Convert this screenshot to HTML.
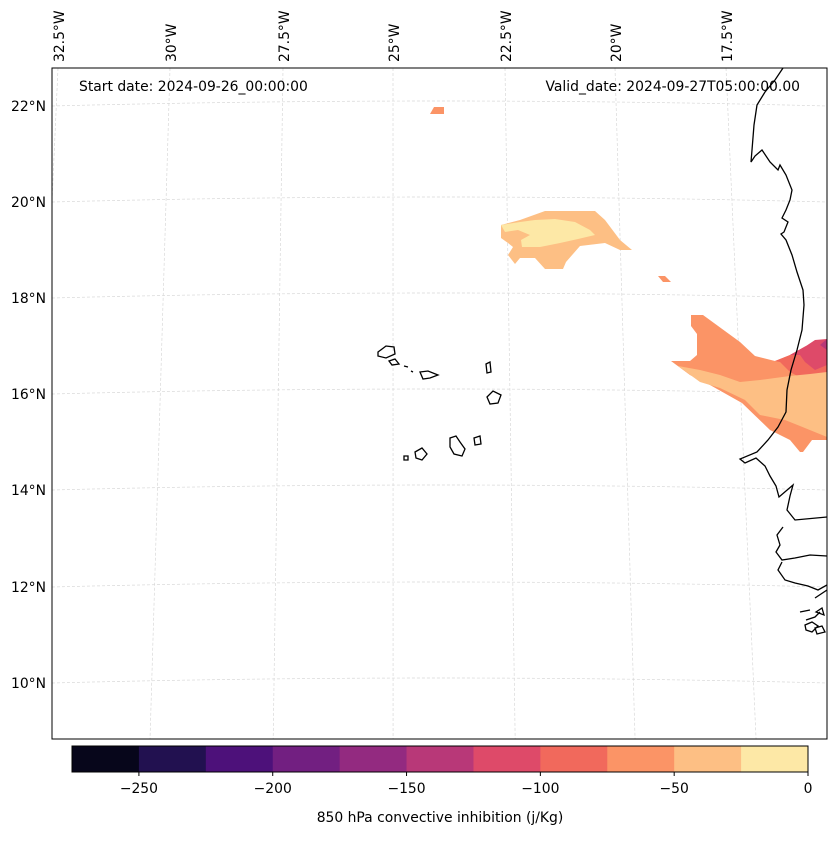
<!DOCTYPE html>
<html><head><meta charset="utf-8">
<style>
body{margin:0;background:#fff;font-family:"Liberation Sans","DejaVu Sans",sans-serif;}
svg text{font-family:"DejaVu Sans","Liberation Sans",sans-serif;font-size:13.9px;fill:#000;}
</style></head>
<body>
<svg id="chart" width="837" height="836" viewBox="0 0 837 836" xmlns="http://www.w3.org/2000/svg">
<defs><clipPath id="mapclip"><rect x="52" y="68" width="775" height="671"/></clipPath></defs>
<g id="grid" clip-path="url(#mapclip)" stroke="#d8d8d8" stroke-width="0.7" stroke-dasharray="3,2" fill="none"></g>
<g id="fields" clip-path="url(#mapclip)">
  <path fill="#fb9466" d="M430,114 L434,107 L444,107 L444,114 Z"/>
  <path fill="#fdbf84" d="M501,225 L520,220 L545,211 L595,211 L605,220 L620,240 L632,250 L620,250 L605,243 L580,246 L566,262 L563,269 L545,269 L535,258 L520,258 L515,264 L508,255 L513,247 L508,243 L501,238 Z"/>
  <path fill="#fde8a6" d="M501,225 L520,222 L535,220 L555,219 L575,222 L590,230 L595,235 L578,239 L560,243 L540,247 L522,247 L521,240 L530,235 L518,230 L505,232 Z"/>
  <path fill="#fb9466" d="M658,276 L665,276 L671,282 L663,282 Z"/>
  <path fill="#fb9466" d="M671,361 L690,361 L697,355 L697,334 L691,326 L691,315 L703,315 L740,342 L755,356 L775,361 L790,355 L806,346 L820,342 L827,339 L827,440 L812,440 L803,452 L800,452 L790,440 L770,430 L742,403 L710,385 L690,375 Z"/>
  <path fill="#f1695c" d="M775,361 L790,355 L806,346 L820,342 L827,339 L827,378 L805,380 L790,372 L780,362 Z"/>
  <path fill="#de4a69" d="M790,355 L806,346 L815,340 L827,339 L827,365 L815,370 L805,362 L800,355 Z"/>
  <path fill="#b83878" d="M820,345 L827,339 L827,350 Z"/>
  <path fill="#fdbf84" d="M678,366 L700,370 L720,375 L740,382 L760,380 L790,376 L810,374 L827,372 L827,437 L800,426 L785,420 L760,415 L745,400 L720,388 L700,382 Z"/>
</g>
<g clip-path="url(#mapclip)" fill="none" stroke="#000" stroke-width="1.3">
  <path d="M783,68 L775,80 L765,92 L757,105 L754,125 L752,150 L751,162 L755,156 L762,150 L770,162 L778,170 L780,165 L786,175 L792,190 L790,200 L786,210 L782,218 L788,222 L784,232 L781,234 L786,240 L792,255 L797,272 L803,290 L804,305 L802,330 L797,350 L791,370 L787,390 L786,412 L778,427 L768,440 L757,452 L740,459 L745,463 L756,458 L765,466 L770,476 L776,486 L779,497 L793,485 L790,496 L787,510 L795,520 L827,517"/>
  <path d="M783,527 L777,535 L780,545 L776,552 L782,560 L795,558 L810,555 L827,556"/>
  <path d="M782,562 L778,570 L785,580 L795,583 L808,586 L818,590 L827,585 M815,598 L827,590 M800,612 L810,610 M806,620 L815,617 L820,612"/>
  <path d="M805,625 L812,622 L818,626 L812,632 L806,630 Z M816,612 L822,608 L824,615 Z M815,628 L822,626 L825,632 L817,634 Z"/>
  <path d="M378,352 L386,346 L394,347 L395,354 L386,358 L378,356 Z"/>
  <path d="M389,361 L395,359 L399,364 L392,365 Z"/>
  <path d="M404,366 L408,367 M411,371 L413,372"/>
  <path d="M420,372 L428,371 L438,375 L430,378 L423,379 Z"/>
  <path d="M486,364 L490,362 L491,372 L487,373 Z"/>
  <path d="M487,397 L493,391 L501,395 L498,403 L490,404 Z"/>
  <path d="M474,438 L480,436 L481,444 L475,445 Z"/>
  <path d="M450,438 L456,436 L460,442 L465,449 L462,456 L454,454 L450,447 Z"/>
  <path d="M415,452 L422,448 L427,454 L422,460 L416,458 Z"/>
  <path d="M404,456 L408,456 L408,460 L404,460 Z"/>
</g>
<rect x="52" y="68" width="775" height="671" fill="none" stroke="#000" stroke-width="1"/>
<text x="79" y="91">Start date: 2024-09-26_00:00:00</text>
<text x="800" y="91" text-anchor="end">Valid_date: 2024-09-27T05:00:00.00</text>
<g id="lonlabels"></g>
<g id="latlabels"></g>
<g id="cbar"></g>
<text x="440" y="822" text-anchor="middle">850 hPa convective inhibition (j/Kg)</text>
</svg>
<script>
const lonValues=[-32.5,-30,-27.5,-25,-22.5,-20,-17.5];
const lonTopX=[60,172,285,395,507,617,728];
const latValues=[22,20,18,16,14,12,10];
const latLeftY=[106,202,298,394,490,587,683];
const cbarBounds=[-275,-250,-225,-200,-175,-150,-125,-100,-75,-50,-25,0];
const cbarColors=["#07061b","#221150","#4d117a","#721f81","#932a80","#b83878","#de4a69","#f1695c","#fb9466","#fdbf84","#fde8a6"];
const cbarTicks=[-250,-200,-150,-100,-50,0];
const NS="http://www.w3.org/2000/svg";
function mk(tag,attrs,parent){const e=document.createElementNS(NS,tag);for(const k in attrs)e.setAttribute(k,attrs[k]);parent.appendChild(e);return e;}
const grid=document.getElementById('grid');
lonValues.forEach((v,i)=>{const x0=lonTopX[i]-2;const x1=392+(x0-392)*1.09;
 const p=mk('path',{d:`M${x0},68 L${x1},739`},grid);
 
 });
latValues.forEach((v,i)=>{const y=latLeftY[i];
 const p=mk('path',{d:`M52,${y} Q440,${y-10} 827,${y}`},grid);
 
 });
const lonG=document.getElementById('lonlabels');
lonValues.forEach((v,i)=>{const x=lonTopX[i]+4;
 const t=mk('text',{x:x,y:62,transform:`rotate(-90 ${x} 62)`},lonG);
 t.textContent=Math.abs(v)+'°W';
 
 });
const latG=document.getElementById('latlabels');
latValues.forEach((v,i)=>{
 const t=mk('text',{x:46,y:latLeftY[i]+5,'text-anchor':'end'},latG);
 t.textContent=v+'°N';
 
 });
const cb=document.getElementById('cbar');
const cx0=72,cx1=808,cy=746,ch=26;
const sx=v=>cx0+(v-cbarBounds[0])/(cbarBounds[cbarBounds.length-1]-cbarBounds[0])*(cx1-cx0);
cbarColors.forEach((c,i)=>{
 const r=mk('rect',{x:sx(cbarBounds[i]),y:cy,width:sx(cbarBounds[i+1])-sx(cbarBounds[i])+0.5,height:ch,fill:c},cb);
 
 });
mk('rect',{x:cx0,y:cy,width:cx1-cx0,height:ch,fill:'none',stroke:'#000','stroke-width':1},cb);
cbarTicks.forEach(v=>{const x=sx(v);
 mk('line',{x1:x,x2:x,y1:cy+ch,y2:cy+ch+4,stroke:'#000'},cb);
 const t=mk('text',{x:x,y:793,'text-anchor':'middle'},cb);
 t.textContent=v<0?'\u2212'+Math.abs(v):String(v);
 
 });
</script>
</body></html>
